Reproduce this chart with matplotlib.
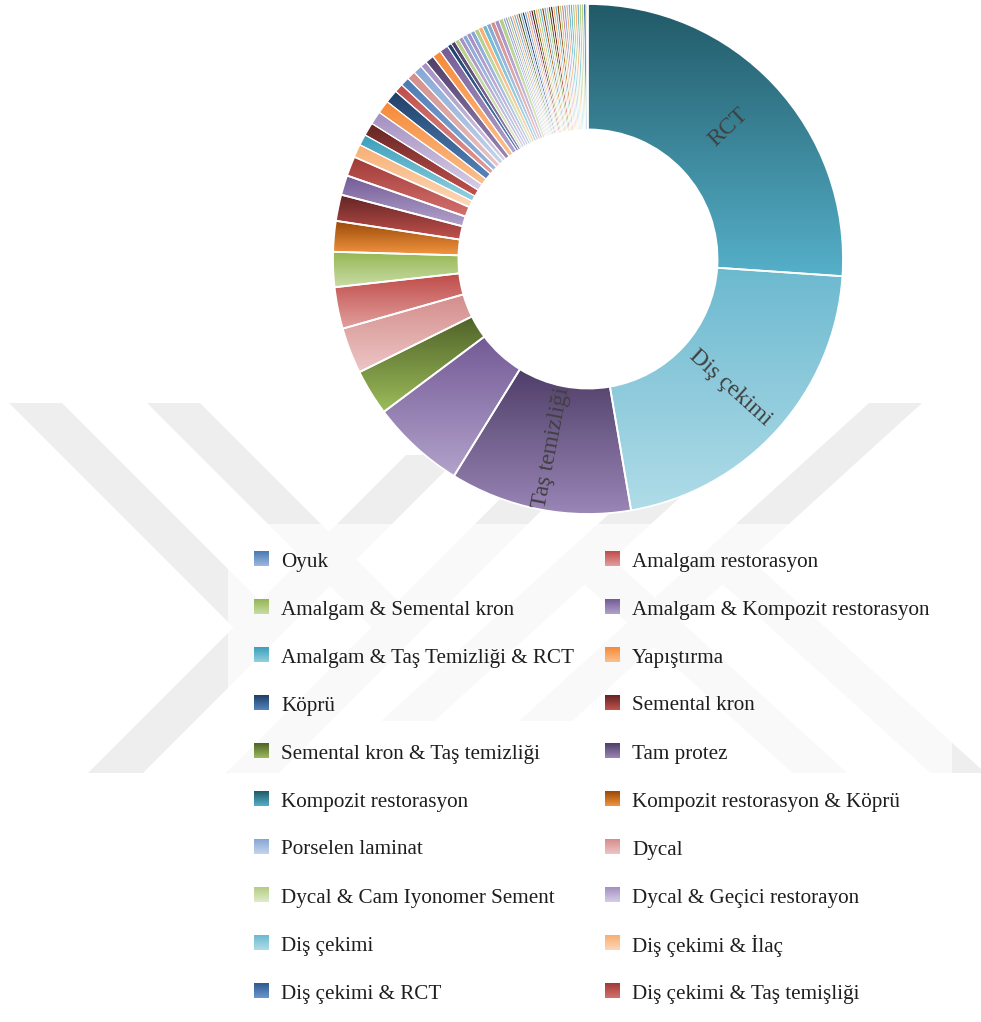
import matplotlib as mpl
mpl.use('Agg')
import matplotlib.pyplot as plt
from matplotlib.colors import LinearSegmentedColormap
from matplotlib.patches import Polygon, Rectangle
import numpy as np

# Treatment counts, clockwise from 12 o'clock
slice_values = [188, 153, 83, 43, 21, 21, 19, 16, 14, 12, 9, 9, 6, 5, 6, 6, 6, 6,
                4, 4, 4, 4, 3, 4, 4, 4,
                2, 2, 2, 2, 2, 2, 2, 2, 2, 2, 2, 2, 2, 2,
                1, 1, 1, 1, 1, 1, 1, 1, 1, 1, 1, 1, 1, 1, 1, 1, 1, 1, 1,
                1, 1, 1, 1, 1, 1, 1, 1, 1, 1, 1, 1, 1, 1, 1, 1, 1, 1, 1, 1]
slice_colors = ['daqua', 'laqua', 'dpurple', 'purple', 'dgreen', 'lred', 'red', 'green',
                'dorange', 'dred', 'purple', 'red2', 'lorange', 'aqua', 'dred', 'lpurple',
                'orange', 'dblue', 'red', 'blue', 'lred', 'lblue', 'lpurple', 'dpurple',
                'orange', 'purple',
                'dblue', 'dpurple', 'lgreen', 'lpurple', 'lblue', 'lpurple', 'lblue',
                'lgreen', 'lorange', 'laqua', 'lblue', 'lred', 'lpurple', 'lgreen',
                'lblue', 'lpurple', 'lgreen', 'lblue', 'lorange', 'laqua', 'lred', 'dgreen',
                'lblue', 'dblue', 'lblue', 'lorange', 'lpurple', 'dred', 'dgreen', 'lorange',
                'lgreen', 'laqua', 'dorange', 'lblue', 'lgreen', 'dgreen', 'dred', 'lorange',
                'laqua', 'dorange', 'lgreen', 'lred', 'lblue', 'lorange', 'laqua', 'laqua',
                'lgreen', 'lorange', 'laqua', 'lgreen', 'lgreen', 'blue']
inner_labels = ['RCT', 'Diş çekimi', 'Taş temizliği']

legend_names = ['Oyuk', 'Amalgam restorasyon',
                'Amalgam & Semental kron', 'Amalgam & Kompozit restorasyon',
                'Amalgam & Taş Temizliği & RCT', 'Yapıştırma',
                'Köprü', 'Semental kron',
                'Semental kron & Taş temizliği', 'Tam protez',
                'Kompozit restorasyon', 'Kompozit restorasyon & Köprü',
                'Porselen laminat', 'Dycal',
                'Dycal & Cam Iyonomer Sement', 'Dycal & Geçici restorayon',
                'Diş çekimi', 'Diş çekimi & İlaç',
                'Diş çekimi & RCT', 'Diş çekimi & Taş temişliği']
legend_colors = ['blue', 'red', 'green', 'purple', 'aqua', 'orange',
                 'dblue', 'dred', 'dgreen', 'dpurple', 'daqua', 'dorange',
                 'lblue', 'lred', 'lgreen', 'lpurple', 'laqua', 'lorange',
                 'blue2', 'red2']

# gradient fills: (top, bottom)
palette = {
    'blue': ('#4a78b2', '#9db9df'), 'red': ('#bf4b48', '#e2a09e'),
    'green': ('#94b651', '#c9dca6'), 'purple': ('#735a95', '#b2a2cb'),
    'aqua': ('#3a9fbb', '#93d0e0'), 'orange': ('#f68a37', '#fbc08e'),
    'dblue': ('#1f3f66', '#5584bd'), 'dred': ('#632523', '#c3524f'),
    'dgreen': ('#4f6228', '#9cbc5b'), 'dpurple': ('#4f3e68', '#9a86b7'),
    'daqua': ('#215967', '#55b0c9'), 'dorange': ('#984807', '#f39540'),
    'lblue': ('#86a7d4', '#c5d5ec'), 'lred': ('#d48d8b', '#ecc6c5'),
    'lgreen': ('#b3cd84', '#dfebca'), 'lpurple': ('#a48fc1', '#d6cde6'),
    'laqua': ('#6cb9cf', '#b0dce8'), 'lorange': ('#f8ae72', '#fcd8b9'),
    'blue2': ('#2e5a91', '#6d98cf'), 'red2': ('#a03a37', '#d4716e'),
}

W, H = 981, 1022
SERIF = 'Liberation Serif'
ramp = np.linspace(0, 1, 256).reshape(-1, 1)


def gradient(ax, key, extent, clip=None, z=1):
    top, bot = palette[key]
    cmap = LinearSegmentedColormap.from_list(key, [top, bot])
    im = ax.imshow(ramp, cmap=cmap, extent=extent, origin='upper', aspect='auto',
                   interpolation='bilinear', zorder=z)
    if clip is not None:
        im.set_clip_path(clip)
    return im


def band(x0, width, y0, y1, slope):
    xb = x0 + slope * (y1 - y0)
    return [(x0, y0), (x0 + width, y0), (xb + width, y1), (xb, y1)]


fig = plt.figure(figsize=(W / 100, H / 100), dpi=100)

# background layer in pixel coordinates
bg = fig.add_axes([0, 0, 1, 1])
bg.set_xlim(0, W)
bg.set_ylim(H, 0)
bg.axis('off')

mark = [band(9, 53, 403, 627, 1), band(147, 53, 403, 627, 1),
        band(406, 55, 455, 773, -1), band(544, 53, 455, 773, -1),
        band(869, 53, 403, 721, -1.1), band(731, 53, 403, 721, -1.1),
        band(695, 55, 559, 773, 1.1), band(557, 55, 559, 773, 1.1)]
for pts in mark:
    bg.add_patch(Polygon(pts, closed=True, facecolor='#eeeeee', edgecolor='none', zorder=0))

# legend box
bg.add_patch(Rectangle((228, 524), 724, 495, facecolor='white', alpha=0.65,
                       edgecolor='none', zorder=1))
for i, (name, key) in enumerate(zip(legend_names, legend_colors)):
    row, col = divmod(i, 2)
    y = 559 + 48 * row
    xs = [254, 605][col]
    gradient(bg, key, (xs, xs + 15, y + 7.5, y - 7.5), z=2)
    bg.text([281, 632][col], y + 3, name, fontsize=15.2, family=SERIF, color='#1e1e1e',
            va='center', ha='left', zorder=3)
bg.set_xlim(0, W)
bg.set_ylim(H, 0)

# doughnut
cx, cy, r = 588, 259, 255
ax = fig.add_axes([(cx - r) / W, (H - cy - r) / H, 2 * r / W, 2 * r / H])
wedges, _ = ax.pie(slice_values, startangle=90, counterclock=False, radius=1,
                   wedgeprops=dict(width=0.492, edgecolor='white', linewidth=1.3))
for w, key, v in zip(wedges, slice_colors, slice_values):
    ext = w.get_path().get_extents()
    gradient(ax, key, (ext.x0, ext.x1, ext.y0, ext.y1), clip=w, z=1)
    w.set_facecolor('none')
    w.set_zorder(2)
    if v <= 2:
        w.set_linewidth(0.45)
    elif v <= 6:
        w.set_linewidth(0.8)

rmid = 1 - 0.492 / 2
for w, lab in zip(wedges, inner_labels):
    mid = (w.theta1 + w.theta2) / 2
    rad = np.deg2rad(mid)
    rot = mid % 360
    if 90 < rot < 270:
        rot -= 180
    ax.text(rmid * np.cos(rad), rmid * np.sin(rad), lab, fontsize=17, family=SERIF,
            color='#404040', ha='center', va='center', rotation=rot,
            rotation_mode='anchor', zorder=3)

ax.set_xlim(-1, 1)
ax.set_ylim(-1, 1)
ax.set_aspect('equal')
ax.axis('off')

fig.savefig('out.png', dpi=100)
